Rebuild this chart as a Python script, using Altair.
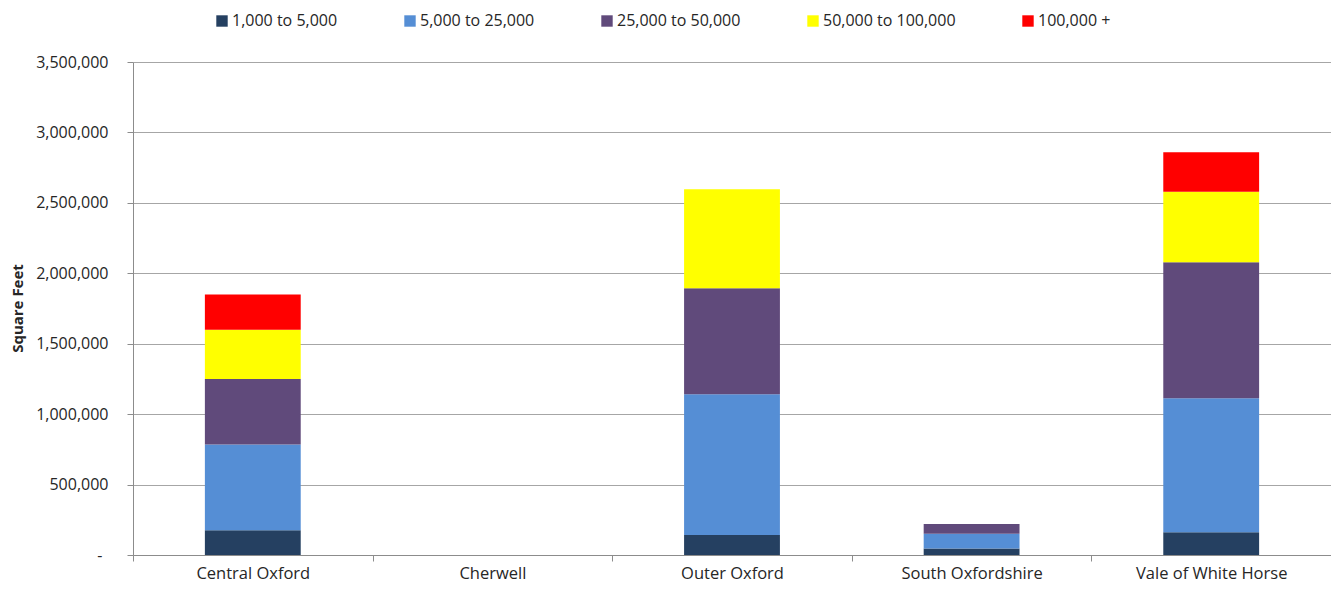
import altair as alt
import pandas as pd

categories = ["Central Oxford", "Cherwell", "Outer Oxford", "South Oxfordshire", "Vale of White Horse"]
sizes = ["1,000 to 5,000", "5,000 to 25,000", "25,000 to 50,000", "50,000 to 100,000", "100,000 +"]
colors = ["#254061", "#558ED5", "#604A7B", "#FFFF00", "#FF0000"]

band_1k_5k = [175000, 0, 142000, 47000, 161000]
band_5k_25k = [610000, 0, 1000000, 103000, 951000]
band_25k_50k = [465000, 0, 752000, 70000, 966000]
band_50k_100k = [350000, 0, 703000, 0, 501000]
band_100k_plus = [250000, 0, 0, 0, 280000]

series = [band_1k_5k, band_5k_25k, band_25k_50k, band_50k_100k, band_100k_plus]
rows = []
for i, (name, vals) in enumerate(zip(sizes, series)):
    for cat, v in zip(categories, vals):
        rows.append({"Area": cat, "Size": name, "idx": i, "Value": v})
df = pd.DataFrame(rows)

FONT = "Open Sans"

chart = alt.Chart(df).mark_bar(width=alt.RelativeBandSize(0.4)).encode(
    x=alt.X("Area:N", sort=categories, title=None,
            scale=alt.Scale(paddingInner=0, paddingOuter=0),
            axis=alt.Axis(labelAngle=0, tickBand="extent", tickSize=6, labelPadding=4,
                          domainColor="#8c8c8c", tickColor="#8c8c8c", grid=False,
                          labelFont=FONT, labelFontSize=16.5, labelColor="#262626")),
    y=alt.Y("Value:Q", stack="zero", title="Square Feet",
            scale=alt.Scale(domain=[0, 3500000], nice=False),
            axis=alt.Axis(values=[0, 500000, 1000000, 1500000, 2000000, 2500000, 3000000, 3500000],
                          labelExpr="datum.value == 0 ? '-' : format(datum.value, ',')",
                          tickSize=6,
                          labelPadding={"condition": {"test": "datum.value == 0", "value": 25}, "value": 19},
                          domainColor="#8c8c8c", tickColor="#8c8c8c",
                          gridColor="#a6a6a6", gridWidth=1,
                          labelFont=FONT, labelFontSize=16, labelColor="#262626",
                          titleFont=FONT, titleFontSize=15, titleFontWeight="bold", titleColor="#262626",
                          titleX=-116, titleY=246, titleAngle=-90, titleAlign="center", titleBaseline="middle")),
    color=alt.Color("Size:N", sort=sizes, scale=alt.Scale(domain=sizes, range=colors),
                    legend=alt.Legend(title=None, orient="none", direction="horizontal",
                                      legendX=81, legendY=-49, symbolType="square", symbolSize=130,
                                      symbolStrokeWidth=0, symbolOpacity=1, columnPadding=64, labelOffset=2,
                                      labelFont=FONT, labelFontSize=16, labelColor="#262626")),
    order=alt.Order("idx:Q", sort="ascending"),
).properties(
    width=1198, height=493,
    autosize=alt.AutoSizeParams(type="none"),
    padding={"left": 125, "top": 54, "right": 0, "bottom": 32},
).configure_view(stroke=None)

chart.save("out.html", embed_options={"renderer": "svg", "actions": False})
